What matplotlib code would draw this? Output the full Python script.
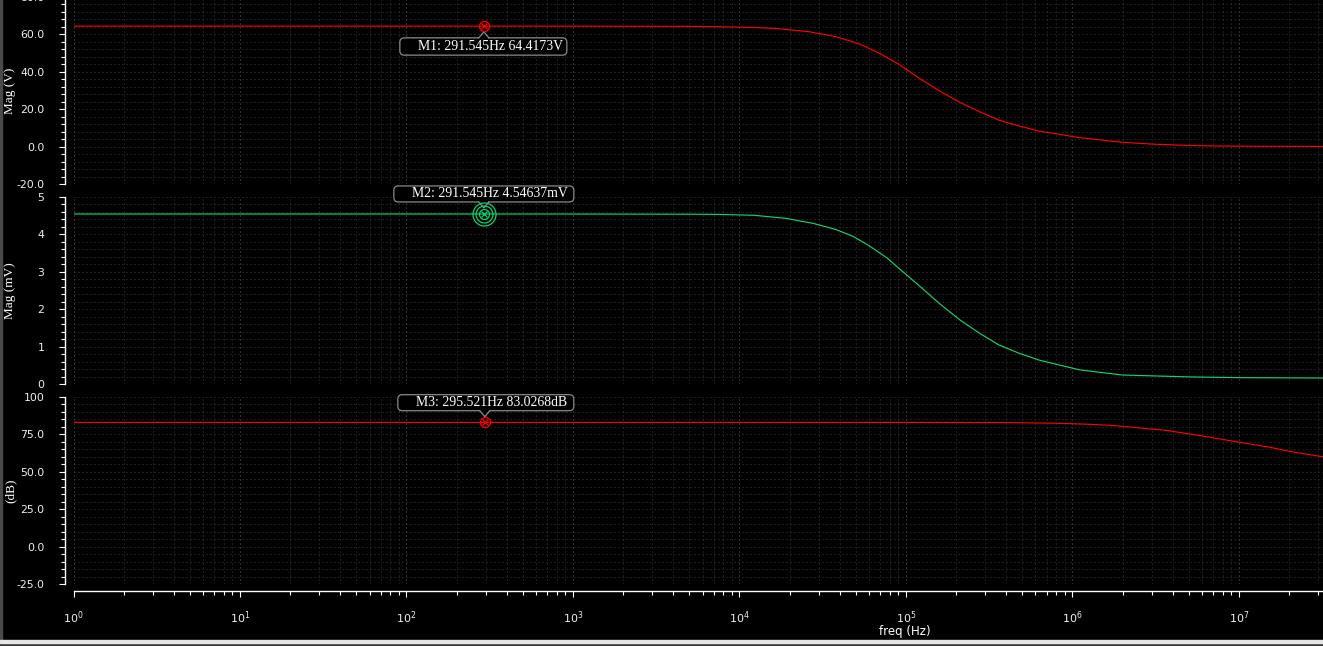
import matplotlib
matplotlib.use('Agg')
import matplotlib.pyplot as plt
from matplotlib import ticker, transforms
from matplotlib.patches import FancyBboxPatch, Rectangle

# ---- data ----
freq_v = [1, 10, 100, 1e3, 5e3, 7.6e3, 1.23e4, 1.7e4, 2.63e4, 3.8e4, 5.3e4, 6.9e4,
          9.2e4, 1.2e5, 1.59e5, 2.1e5, 2.76e5, 3.6e5, 4.8e5, 6.3e5, 8.3e5, 1.1e6,
          2e6, 2.9e6, 5e6, 7.6e6, 1.5e7, 3.2e7]
mag_v = [64.42, 64.42, 64.42, 64.41, 64.3, 64.1, 63.7, 63.1, 61.4, 58.8, 54.8, 50.0,
         43.7, 36.6, 29.8, 23.7, 18.7, 14.2, 11.0, 8.3, 6.6, 4.8,
         2.3, 1.4, 0.6, 0.3, 0.15, 0.1]

freq_mv = [1, 10, 100, 1e3, 5e3, 7.6e3, 1.23e4, 1.9e4, 2.8e4, 3.8e4, 4.8e4, 6.0e4,
           7.7e4, 9.2e4, 1.2e5, 1.59e5, 2.1e5, 2.76e5, 3.6e5, 4.8e5, 6.3e5, 8.3e5,
           1.1e6, 2e6, 5e6, 1e7, 3.2e7]
mag_mv = [4.546, 4.546, 4.546, 4.545, 4.54, 4.535, 4.51, 4.43, 4.29, 4.13, 3.95, 3.70,
          3.37, 3.07, 2.63, 2.15, 1.72, 1.36, 1.05, 0.82, 0.64, 0.51,
          0.38, 0.24, 0.19, 0.17, 0.16]

freq_db = [1, 10, 100, 1e3, 1e4, 1e5, 3.6e5, 7.6e5, 1.24e6, 1.66e6, 2e6, 2.64e6,
           3.6e6, 5.2e6, 7.3e6, 1e7, 1.5e7, 2.1e7, 3.2e7]
mag_db = [83.03, 83.03, 83.03, 83.03, 83.03, 83.02, 82.95, 82.5, 81.8, 81.1, 80.4, 79.1,
          77.8, 75.1, 72.4, 69.8, 66.6, 63.3, 60.0]

marker_freq = [291.545, 291.545, 295.521]
marker_val = [64.4173, 4.54637, 83.0268]
marker_text = ['M1: 291.545Hz 64.4173V', 'M2: 291.545Hz 4.54637mV', 'M3: 295.521Hz 83.0268dB']

y_labels = ['Mag (V)', 'Mag (mV)', '(dB)']
p1_ticks = [-20, 0, 20, 40, 60, 80]
p1_ticklabels = ['-20.0', '0.0', '20.0', '40.0', '60.0', '80.0']
p2_ticks = [0, 1, 2, 3, 4, 5]
p2_ticklabels = ['0', '1', '2', '3', '4', '5']
p3_ticks = [-25, 0, 25, 50, 75, 100]
p3_ticklabels = ['-25.0', '0.0', '25.0', '50.0', '75.0', '100']

RED = '#ff0000'
GREEN = '#12d26c'
GRID_MINOR = '#3c3c3c'
GRID_MAJOR = '#5c5c5c'
BOX_EDGE = '#8a8a8a'

W, H = 1323, 646
fig = plt.figure(figsize=(W / 100, H / 100), dpi=100, facecolor='black')


def px_axes(left, top, right, bottom):
    # pixel box (from top-left) -> figure fraction rect
    return [left / W, 1 - bottom / H, (right - left) / W, (bottom - top) / H]


ax1 = fig.add_axes(px_axes(73.5, -3, 1323, 184))
ax2 = fig.add_axes(px_axes(73.5, 197, 1323, 384), sharex=ax1)
ax3 = fig.add_axes(px_axes(73.5, 397, 1323, 584), sharex=ax1)

ax1.set_xscale('log')
ax1.set_xlim(1, 3.2e7)

ax1.plot(freq_v, mag_v, color=RED, lw=0.85)
ax2.plot(freq_mv, mag_mv, color=GREEN, lw=0.85)
ax3.plot(freq_db, mag_db, color=RED, lw=0.85)

ax1.set_ylim(-20, 80)
ax2.set_ylim(0, 5)
ax3.set_ylim(-25, 100)

setups = [(ax1, p1_ticks, p1_ticklabels, 4), (ax2, p2_ticks, p2_ticklabels, 0.2),
          (ax3, p3_ticks, p3_ticklabels, 5)]
for (ax, tks, tls, minor), lab in zip(setups, y_labels):
    ax.set_facecolor('black')
    ax.yaxis.set_major_locator(ticker.FixedLocator(tks))
    ax.yaxis.set_major_formatter(ticker.FixedFormatter(tls))
    ax.yaxis.set_minor_locator(ticker.MultipleLocator(minor))
    ax.xaxis.set_major_locator(ticker.LogLocator(base=10, numticks=20))
    ax.xaxis.set_minor_locator(ticker.LogLocator(base=10, subs=range(2, 10), numticks=20))
    ax.xaxis.set_minor_formatter(ticker.NullFormatter())

    ax.grid(which='minor', color=GRID_MINOR, ls=(0, (1, 3)), lw=0.72)
    ax.yaxis.grid(which='major', color=GRID_MINOR, ls=(0, (1, 3)), lw=0.72)
    ax.xaxis.grid(which='major', color=GRID_MAJOR, ls=(0, (1, 3)), lw=0.72)
    ax.set_axisbelow(True)

    for s in ['top', 'right', 'bottom']:
        ax.spines[s].set_visible(False)
    ax.spines['left'].set_position(('outward', 6.3))
    ax.spines['left'].set_color('white')
    ax.spines['left'].set_linewidth(1.0)

    ax.tick_params(axis='y', which='major', length=4.3, width=0.8, color='white',
                   labelcolor='#f0f0f0', labelsize=7.8, pad=10.4)
    ax.tick_params(axis='y', which='minor', length=2.9, width=0.8, color='white')
    for t in ax.get_yticklabels():
        t.set_family('DejaVu Sans')

    ax.set_ylabel(lab, color='white', fontsize=9.5, family='Liberation Serif', va='center')
    ax.yaxis.set_label_coords((10.5 - 73.5) / 1249.5, 0.5)

for ax in (ax1, ax2):
    ax.tick_params(axis='x', which='both', bottom=False, labelbottom=False)

ax3.spines['bottom'].set_visible(True)
ax3.spines['bottom'].set_position(('outward', 5.0))
ax3.spines['bottom'].set_color('white')
ax3.spines['bottom'].set_linewidth(1.0)
ax3.tick_params(axis='x', which='major', length=4.3, width=0.8, color='white',
                labelcolor='#f0f0f0', labelsize=8, pad=9)
ax3.tick_params(axis='x', which='minor', length=2.9, width=0.8, color='white')
ax3.set_xlabel('freq (Hz)', color='white', fontsize=8.5, va='center')
ax3.xaxis.set_label_coords((905 - 73.5) / 1249.5, (584 - 632) / 187)


def draw_marker(ax, f, v, text, color, box, text_dy, rings=False):
    # box: (left, right, bottom, top) in pixels relative to the marked point
    trans = fig.dpi_scale_trans + transforms.ScaledTranslation(f, v, ax.transData)
    l, r, b, t = [p / 100 for p in box]
    patch = FancyBboxPatch((l, b), r - l, t - b,
                           boxstyle='round,pad=0,rounding_size=0.045',
                           transform=trans, fc='black', ec=BOX_EDGE, lw=0.9,
                           zorder=6, clip_on=False)
    ax.add_patch(patch)
    # little notch pointing at the marker
    base = t if t < 0 else b
    apex = base + (0.06 if t < 0 else -0.06)
    ax.plot([-0.045, 0.045], [base, base], color='black', lw=1.6, transform=trans,
            zorder=7, clip_on=False, solid_capstyle='butt')
    ax.plot([-0.05, 0, 0.05], [base, apex, base], color=BOX_EDGE, lw=0.9,
            transform=trans, zorder=7, clip_on=False)
    ax.text(0.065, text_dy / 100, text, transform=trans, ha='center', va='center',
            color='white', fontsize=9.9, family='Liberation Serif', zorder=8)
    # marker glyph: circle with a cross
    ax.plot(f, v, 'o', ms=7.2, mfc='none', mec=color, mew=0.9, zorder=9, clip_on=False)
    ax.plot(f, v, 'x', ms=4.3, mec=color, mew=0.9, zorder=9, clip_on=False)
    if rings:
        for ms in (12.2, 16.6):
            ax.plot(f, v, 'o', ms=ms, mfc='none', mec=color, mew=0.9, zorder=9,
                    clip_on=False)


draw_marker(ax1, marker_freq[0], marker_val[0], marker_text[0], RED,
            (-84, 83, -29, -11.7), -20.3)
draw_marker(ax2, marker_freq[1], marker_val[1], marker_text[1], GREEN,
            (-90, 90, 12, 28), 20, rings=True)
draw_marker(ax3, marker_freq[2], marker_val[2], marker_text[2], RED,
            (-87, 89, 11.7, 27.7), 19.7)

# window chrome: thin grey strip on the left, light bar at the bottom
fig.add_artist(Rectangle((0, 0), 2 / W, 1, transform=fig.transFigure,
                         color='#4a4a4a', zorder=20))
fig.add_artist(Rectangle((0, 0), 1, 3.3 / H, transform=fig.transFigure,
                         color='#3a3a3a', zorder=20))
fig.add_artist(Rectangle((0, 3.3 / H), 1, 2.7 / H, transform=fig.transFigure,
                         color='#e6e6e6', zorder=20))

fig.savefig('out.png', dpi=100, facecolor='black')
